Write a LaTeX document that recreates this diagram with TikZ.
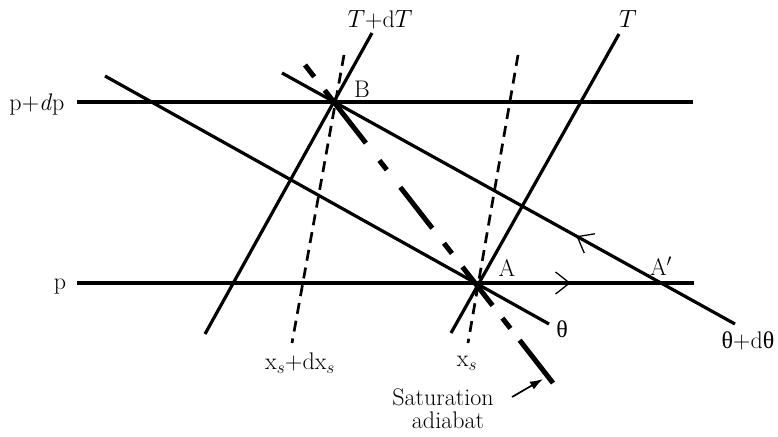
\documentclass[tikz,border=0pt]{standalone}
\usepackage{fontspec}
\newfontfamily\grk{Liberation Serif}
\usetikzlibrary{arrows.meta,decorations.markings}
\begin{document}
\begin{tikzpicture}[x=1pt,y=-1pt,
  line/.style={line width=3.2pt},
  satline/.style={line width=5pt, dash pattern=on 15pt off 17pt on 67pt off 22pt on 12pt off 22pt on 52pt off 19pt on 13pt off 17pt on 49pt off 16pt on 13pt off 15pt on 60pt off 20pt},
  xsline/.style={line width=2.7pt, dash pattern=on 11pt off 7pt},
  lab/.style={font=\fontsize{24}{28}\selectfont, inner sep=0pt},
  chevtip/.tip={Straight Barb[length=14pt,width=22pt,line width=1.3pt]},
  arr/.style={-{Latex[length=13pt,width=9pt]}, line width=1.7pt}
]
\useasboundingbox (0,0) rectangle (778,436);
% endpoints
\coordinate (pdpL) at (77,102);
\coordinate (pdpR) at (693,102);
\coordinate (pL) at (77,283);
\coordinate (pR) at (694,283);
\coordinate (TTop) at (619,34);
\coordinate (TBot) at (451,333);
\coordinate (TdTTop) at (372,33);
\coordinate (TdTBot) at (205,334);
\coordinate (thTop) at (105,76);
\coordinate (thBot) at (549,324);
\coordinate (thdTop) at (282,73);
\coordinate (thdBot) at (735,324);
\coordinate (satTop) at (305,65);
\coordinate (satBot) at (553,383);
\coordinate (xsdTop) at (344,55);
\coordinate (xsdBot) at (292,343);
\coordinate (xsTop) at (518,55);
\coordinate (xsBot) at (468,343);
\coordinate (arrTail) at (512,397);
\coordinate (arrHead) at (543,379);
% isobars
\draw[line] (pdpL) -- (pdpR);
\draw[line, postaction={decorate}, decoration={markings, mark=at position 0.8 with {\arrow{chevtip}}}] (pL) -- (pR);
% isotherms
\draw[line] (TTop) -- (TBot);
\draw[line] (TdTTop) -- (TdTBot);
% dry adiabats
\draw[line] (thTop) -- (thBot);
\draw[line, postaction={decorate}, decoration={markings, mark=at position 0.65 with {\arrowreversed{chevtip}}}] (thdTop) -- (thdBot);
% saturation mixing ratio lines
\draw[xsline] (xsdTop) -- (xsdBot);
\draw[xsline] (xsTop) -- (xsBot);
% saturation adiabat
\draw[satline] (satTop) -- (satBot);
\draw[arr] (arrTail) -- (arrHead);
% labels
\node[lab] (lTdT) at (380,20) {$T$+d$T$};
\node[lab] (lT) at (628,19) {$T$};
\node[lab] (lB) at (362,89) {B};
\node[lab] (lA) at (507,268) {A};
\node[lab] (lAp) at (661,266) {A$'$};
\node[lab] (lth) at (562,329) {\grk θ};
\node[lab] (lthd) at (748,341) {{\grk θ}+d{\grk θ}};
\node[lab] (lxsd) at (300,363) {x$_s$+dx$_s$};
\node[lab] (lxs) at (467,363) {x$_s$};
\node[lab] (lsat) at (443,397) {Saturation};
\node[lab] (ladi) at (448,420) {adiabat};
\node[lab] (lpdp) at (37,105) {p+\textit{d}p};
\node[lab] (lp) at (60,287) {p};
\end{tikzpicture}
\end{document}
